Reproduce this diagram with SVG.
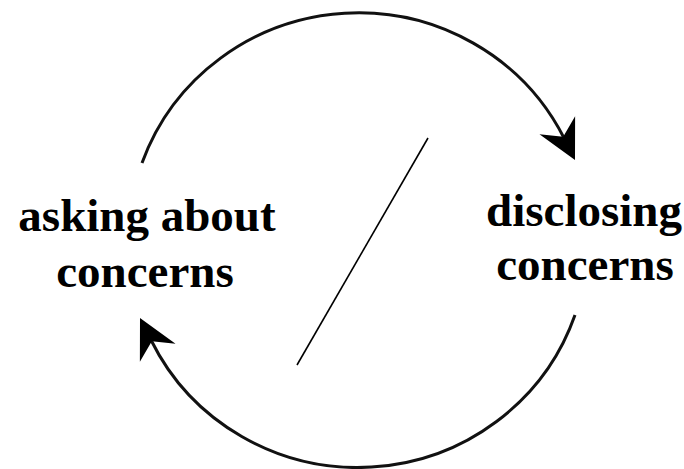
<svg xmlns="http://www.w3.org/2000/svg" width="684" height="469" viewBox="0 0 684 469">
<style>
.arc{fill:none;stroke:#111;stroke-width:3;}
.lbl{font-family:"Liberation Serif","Times New Roman",serif;font-weight:bold;font-size:47px;fill:#000;text-anchor:middle;}
.head{fill:#000;}
</style>
<defs>
<path id="ah" class="head" d="M0,0 L-39,-20 L-26,0 L-39,20 Z"/>
</defs>
<rect width="684" height="469" fill="#fff"/>
<g id="connectors">
<path class="arc" d="M142,163 A230,227 0 0 1 564,138"/>
<use href="#ah" transform="translate(575,160) rotate(63)"/>
<path class="arc" d="M575,315 A230,227 0 0 1 151,340"/>
<use href="#ah" transform="translate(140,318) rotate(243)"/>
<line x1="428" y1="138" x2="297" y2="365" stroke="#000" stroke-width="1.6"/>
</g>
<g id="node-asking">
<text class="lbl" x="147" y="231">asking about</text>
<text class="lbl" x="145" y="287">concerns</text>
</g>
<g id="node-disclosing">
<text class="lbl" x="584" y="226">disclosing</text>
<text class="lbl" x="585" y="280">concerns</text>
</g>
</svg>
